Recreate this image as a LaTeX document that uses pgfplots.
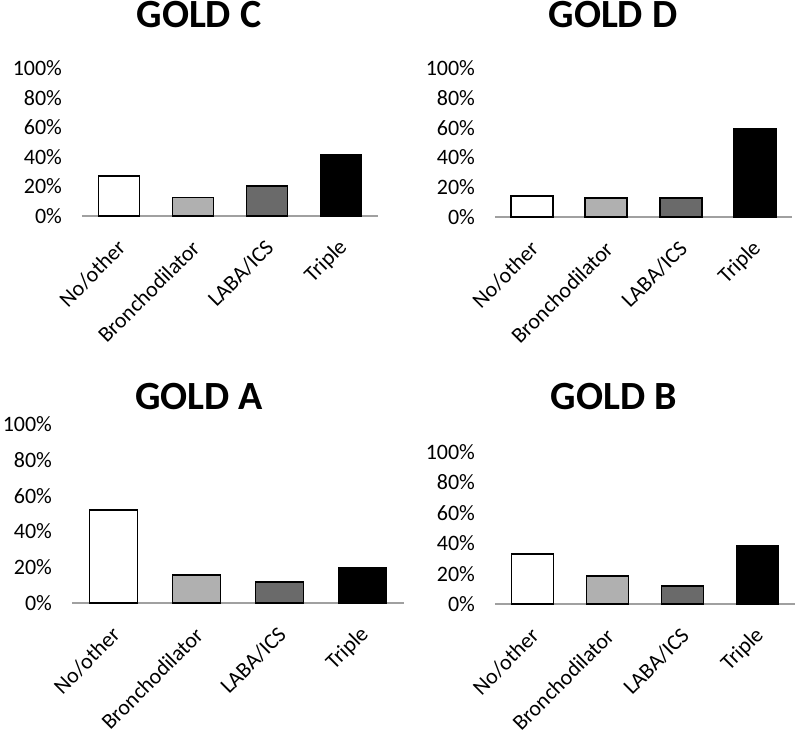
\documentclass[border=0pt]{standalone}
\usepackage{fontspec}
\setmainfont{Carlito}
\usepackage{pgfplots}
\pgfplotsset{compat=1.18}
\definecolor{lgray}{HTML}{B0B0B0}
\definecolor{dgray}{HTML}{6A6A6A}
\definecolor{axgray}{HTML}{A0A0A0}
\pgfplotsset{
  panel/.style={
    scale only axis, anchor=south west,
    ymin=0, ymax=100, ytick={0,20,...,100},
    yticklabel={\pgfmathparse{int(\tick)}\pgfmathresult\%},
    xmin=-0.5, xmax=3.5, xtick={0,1,2,3},
    xticklabels={No/other,Bronchodilator,LABA/ICS,Triple},
    axis x line=bottom, axis y line=left,
    x axis line style={-, draw=axgray, line width=0.9pt},
    y axis line style={draw=none},
    major tick length=0pt,
    tick style={draw=none},
    yticklabel style={font=\fontsize{11}{13}\selectfont, xshift=-6.5pt},
    xticklabel style={font=\fontsize{11}{13}\selectfont, xshift=1.5pt, yshift=-14pt, rotate=45, anchor=east, inner sep=0pt},
    ybar, bar shift=0pt,
    every axis plot/.append style={draw=black, line width=0.9pt},
    clip=false,
  }
}
\begin{document}
\begin{tikzpicture}
\useasboundingbox (0pt,0pt) rectangle (400pt,-367.5pt);
% GOLD C
\begin{axis}[panel, at={(41pt,-108pt)}, width=148pt, height=74pt, bar width=20.5pt]
\addplot[fill=white] coordinates {(0,27)};
\addplot[fill=lgray] coordinates {(1,12.5)};
\addplot[fill=dgray] coordinates {(2,20.2)};
\addplot[fill=black] coordinates {(3,41)};
\end{axis}
% GOLD D
\begin{axis}[panel, at={(247.5pt,-108.5pt)}, width=148.5pt, height=74.5pt, bar width=21pt]
\addplot[fill=white] coordinates {(0,14.2)};
\addplot[fill=lgray] coordinates {(1,13)};
\addplot[fill=dgray] coordinates {(2,13)};
\addplot[fill=black] coordinates {(3,59.4)};
\end{axis}
% GOLD A
\begin{axis}[panel, at={(36pt,-301.5pt)}, width=166pt, height=89.3pt, bar width=24pt]
\addplot[fill=white] coordinates {(0,52)};
\addplot[fill=lgray] coordinates {(1,15.8)};
\addplot[fill=dgray] coordinates {(2,11.9)};
\addplot[fill=black] coordinates {(3,19.8)};
\end{axis}
% GOLD B
\begin{axis}[panel, at={(247.5pt,-302pt)}, width=150pt, height=76pt, bar width=21pt]
\addplot[fill=white] coordinates {(0,32.7)};
\addplot[fill=lgray] coordinates {(1,18.6)};
\addplot[fill=dgray] coordinates {(2,11.9)};
\addplot[fill=black] coordinates {(3,38.5)};
\end{axis}
\node[font=\fontsize{20}{24}\bfseries\selectfont] at (99.5pt,-7.5pt) {GOLD C};
\node[font=\fontsize{20}{24}\bfseries\selectfont] at (306.5pt,-7.5pt) {GOLD D};
\node[font=\fontsize{20}{24}\bfseries\selectfont] at (99.5pt,-198.5pt) {GOLD A};
\node[font=\fontsize{20}{24}\bfseries\selectfont] at (307pt,-198.5pt) {GOLD B};
\end{tikzpicture}
\end{document}
